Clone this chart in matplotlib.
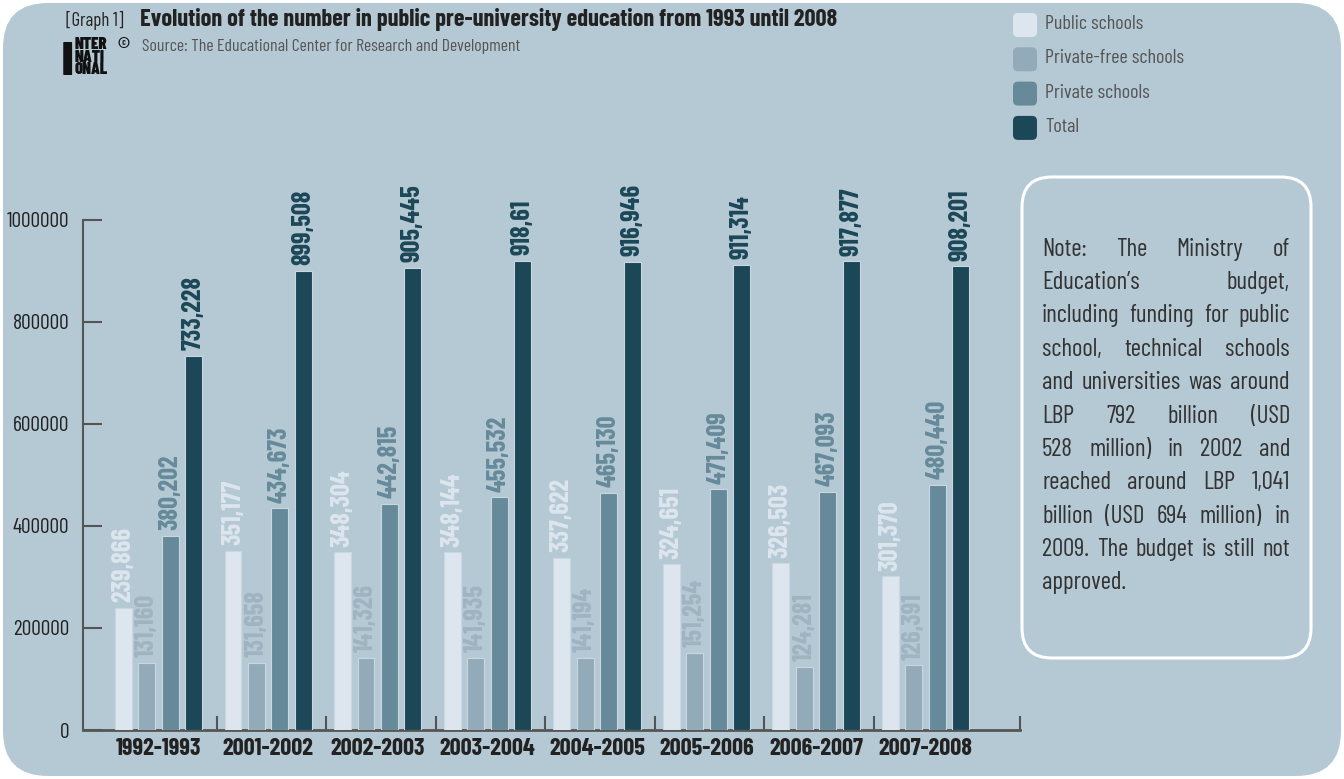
import matplotlib
matplotlib.use("Agg")
import matplotlib.pyplot as plt
from matplotlib.patches import FancyBboxPatch
import numpy as np

plt.rcParams['font.family'] = ['Barlow Condensed', 'DejaVu Sans']

years = ['1992-1993', '2001-2002', '2002-2003', '2003-2004',
         '2004-2005', '2005-2006', '2006-2007', '2007-2008']
public = [239866, 351177, 348304, 348144, 337622, 324651, 326503, 301370]
private_free = [131160, 131658, 141326, 141935, 141194, 151254, 124281, 126391]
private = [380202, 434673, 442815, 455532, 465130, 471409, 467093, 480440]
total = [733228, 899508, 905445, 918610, 916946, 911314, 917877, 908201]
total_labels = ['733,228', '899,508', '905,445', '918,61',
                '916,946', '911,314', '917,877', '908,201']

series_names = ['Public schools', 'Private-free schools', 'Private schools', 'Total']
bar_colors = ['#dde6ee', '#93abb9', '#668a9a', '#1b4757']
label_colors = ['#dde6ee', '#9fb3c0', '#668a9a', '#1b4757']

note_lines = [
    "Note: The Ministry of",
    "Education\u2019s budget,",
    "including funding for public",
    "school, technical schools",
    "and universities was around",
    "LBP 792 billion (USD",
    "528 million) in 2002 and",
    "reached around LBP 1,041",
    "billion (USD 694 million) in",
    "2009. The budget is still not",
    "approved.",
]

W, H = 1344, 779
fig = plt.figure(figsize=(W / 100, H / 100), dpi=100)
fig.patch.set_facecolor('white')

# background / decoration layer in pixel coords
bg = fig.add_axes([0, 0, 1, 1])
bg.set_xlim(0, W)
bg.set_ylim(H, 0)
bg.axis('off')
bg.add_patch(FancyBboxPatch((3, 3), W - 6, H - 6, boxstyle='round,pad=0,rounding_size=45',
                            facecolor='#b5c9d4', edgecolor='none'))
# note box
bg.add_patch(FancyBboxPatch((1022, 177), 289, 481, boxstyle='round,pad=0,rounding_size=30',
                            facecolor='none', edgecolor='white', linewidth=2.2))
# legend
for i, (name, c) in enumerate(zip(series_names, bar_colors)):
    y0 = 13 + i * 34.3
    bg.add_patch(FancyBboxPatch((1013, y0), 24, 24, boxstyle='round,pad=0,rounding_size=5',
                                facecolor=c, edgecolor='none'))
    bg.text(1045, y0 + 11, name, fontsize=14.5, color='#555555', va='center', ha='left')

# title block
bg.text(66, 20, '[Graph 1]', fontsize=13.5, color='#222222', va='center', ha='left')
bg.text(140, 19, 'Evolution of the number in public pre-university education from 1993 until 2008',
        fontsize=17.5, weight='bold', color='#222222', va='center', ha='left')
bg.text(142, 46, 'Source: The Educational Center for Research and Development',
        fontsize=12.8, color='#555555', va='center', ha='left')
# logo
bg.text(75, 57, 'NTER\nNATI\nONAL', fontsize=12, weight='black', color='#111111',
        va='center', ha='left', linespacing=0.78)
bg.text(62, 62, 'I', fontsize=34, weight='black', color='#111111', va='center', ha='left')
bg.text(117, 44, '\u00a9', fontsize=11, weight='bold', color='#111111', va='center', ha='left')

# justified note text
renderer = fig.canvas.get_renderer()
left_px, right_px = 1042, 1290
for i, line in enumerate(note_lines):
    yb = 249 + i * 33.4
    words = line.split()
    texts = [bg.text(0, yb, w, fontsize=18, weight='normal', color='#333333',
                     va='center', ha='left') for w in words]
    widths = [t.get_window_extent(renderer).width for t in texts]
    if i == len(note_lines) - 1 or len(words) == 1:
        gap = 5
    else:
        gap = (right_px - left_px - sum(widths)) / (len(words) - 1)
    x = left_px
    for t, w in zip(texts, widths):
        t.set_x(x)
        x += w + gap

# main chart
ax = fig.add_axes([83 / W, 49 / H, (1020 - 83) / W, 510.5 / H])
ax.patch.set_alpha(0)
x = np.arange(len(years))
bw = 0.155
step = 0.214
data = [public, private_free, private, total]
for k, (vals, c, lc) in enumerate(zip(data, bar_colors, label_colors)):
    pos = x + (k - 1.5) * step
    ax.bar(pos, vals, width=bw, color=c, edgecolor='#c9d8e0', linewidth=0.8, zorder=3)
    for j, (p, v) in enumerate(zip(pos, vals)):
        lab = total_labels[j] if k == 3 else f"{v:,}"
        ax.annotate(lab, (p, v), xytext=(0, 4), textcoords='offset points',
                    rotation=90, ha='center', va='bottom', fontsize=19,
                    weight='bold', color=lc, clip_on=False, zorder=4)

ax.set_xlim(-0.69, 7.862)
ax.set_ylim(0, 1000000)
ax.set_yticks([0, 200000, 400000, 600000, 800000, 1000000])
ax.set_yticklabels(['0', '200000', '400000', '600000', '800000', '1000000'])
ax.tick_params(axis='y', direction='in', length=14, width=1.5, color='#555555',
               labelsize=15.5, labelcolor='#222222', pad=10)
ax.set_xticks(x)
ax.set_xticklabels(years, fontsize=17.5, weight='bold', color='#222222')
ax.tick_params(axis='x', length=0, pad=6)
for b in list(np.arange(7) + 0.53) + [7.862]:
    ax.plot([b, b], [0, 25000], color='#555555', lw=1.5, zorder=2, clip_on=False)
for s in ['top', 'right']:
    ax.spines[s].set_visible(False)
ax.spines['left'].set_color('#555555')
ax.spines['left'].set_linewidth(1.5)
ax.spines['bottom'].set_color('#555555')
ax.spines['bottom'].set_linewidth(2)

fig.savefig('out.png', dpi=100, facecolor='white')
